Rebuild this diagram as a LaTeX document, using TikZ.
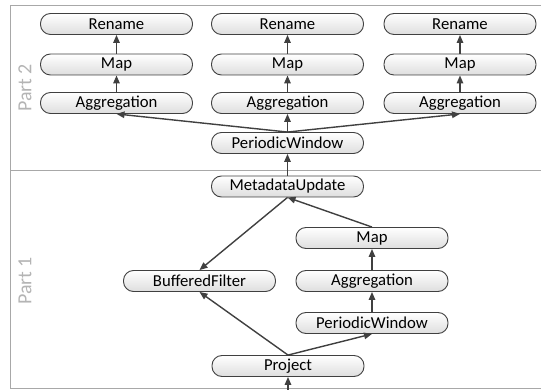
\documentclass[tikz,border=0pt]{standalone}
\usepackage{fontspec}
\setmainfont{Carlito}
\usetikzlibrary{arrows.meta}
\definecolor{edgecol}{HTML}{404040}
\definecolor{framecol}{HTML}{A8A8A8}
\definecolor{partcol}{HTML}{B4B4B4}
\tikzset{
  op/.style={draw=edgecol, line width=0.9pt, rounded corners=10pt, top color=white, bottom color=black!13,
    minimum width=152pt, minimum height=21pt, inner sep=0pt, font=\fontsize{16.7}{17}\selectfont, text=black},
  flow/.style={draw=edgecol, line width=1.4pt, -{Triangle[length=8pt,width=6.5pt]}},
  frameline/.style={draw=framecol, line width=0.9pt},
  partlbl/.style={text=partcol, font=\fontsize{20}{22}\selectfont, rotate=90}
}
\begin{document}
\begin{tikzpicture}[x=1pt,y=-1pt]
\useasboundingbox (0,0) rectangle (542,390);
% frame
\draw[frameline] (541,5) -- (10.5,5) -- (10.5,388) -- (541,388);
\draw[frameline] (10.5,170.5) -- (541,170.5);
\node[partlbl] (p2) at (25,88) {Part 2};
\node[partlbl] (p1) at (25,281) {Part 1};
% part 2
\node[op] (R1) at (116.5,24) {Rename};
\node[op] (M1) at (116.5,64.5) {Map};
\node[op] (A1) at (116.5,103) {Aggregation};
\node[op] (R2) at (287.5,24) {Rename};
\node[op] (M2) at (287.5,64.5) {Map};
\node[op] (A2) at (287.5,103) {Aggregation};
\node[op] (R3) at (460,24) {Rename};
\node[op] (M3) at (460,64.5) {Map};
\node[op] (A3) at (460,103) {Aggregation};
\node[op] (PW2) at (287.5,143) {PeriodicWindow};
% part 1
\node[op] (MU) at (287.5,186.5) {MetadataUpdate};
\node[op] (Mp) at (372,238) {Map};
\node[op] (Ag) at (372,281) {Aggregation};
\node[op] (PW1) at (372,323) {PeriodicWindow};
\node[op] (BF) at (199.5,281) {BufferedFilter};
\node[op] (P) at (288,366) {Project};
\coordinate (in) at (288,392);
% edges
\foreach \c in {1,2,3}{
  \draw[flow] (A\c) -- (M\c);
  \draw[flow] (M\c) -- (R\c);
}
\draw[flow] (PW2.north) -- (A1.south);
\draw[flow] (PW2.north) -- (A2.south);
\draw[flow] (PW2.north) -- (A3.south);
\draw[flow] (MU) -- (PW2);
\draw[flow] (Mp.north) -- (MU.south);
\draw[flow] (MU.south) -- (BF.north);
\draw[flow] (Ag) -- (Mp);
\draw[flow] (PW1) -- (Ag);
\draw[flow] (P.north) -- (BF.south);
\draw[flow] (P.north) -- (PW1.south);
\draw[flow] (in) -- (P);
\end{tikzpicture}
\end{document}
